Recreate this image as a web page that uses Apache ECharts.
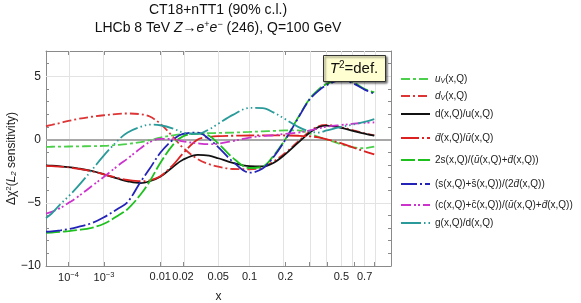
<!DOCTYPE html>
<html><head><meta charset="utf-8">
<script src="https://cdn.jsdelivr.net/npm/echarts@6/dist/echarts.min.js"></script>
<style>html,body{margin:0;padding:0;background:#fff}#c{width:581px;height:303px}</style>
</head><body><div id="c"></div>
<script>
// ---- data (x values and Δχ² curves) ----
const xVals = [1e-5, 2e-5, 5e-5, 1e-4, 2e-4, 5e-4, 1e-3, 2e-3, 3e-3, 5e-3, 7e-3, 0.01, 0.015, 0.02, 0.03, 0.04, 0.05, 0.07, 0.1, 0.13, 0.16, 0.2, 0.25, 0.3, 0.35, 0.4, 0.5, 0.6, 0.7, 0.8];
const uV   = [-0.58, -0.57, -0.56, -0.55, -0.54, -0.52, -0.5, -0.42, -0.35, -0.2, -0.05, 0.15, 0.33, 0.43, 0.48, 0.5, 0.52, 0.55, 0.6, 0.65, 0.68, 0.72, 0.72, 0.5, 0.22, 0.0, -0.38, -0.62, -0.68, -0.57];
const dV   = [1.05, 1.15, 1.32, 1.47, 1.62, 1.8, 1.92, 2.03, 2.06, 2.0, 1.82, 1.25, 0.2, -0.65, -1.55, -1.95, -2.15, -2.33, -2.35, -2.2, -1.75, -1.05, -0.15, 0.6, 1.05, 1.15, 0.97, 0.72, 0.5, 0.32];
const dOverU = [-2.05, -2.07, -2.12, -2.18, -2.28, -2.48, -2.75, -3.1, -3.3, -3.45, -3.3, -2.95, -2.15, -1.6, -1.22, -1.28, -1.48, -1.85, -2.1, -2.12, -1.85, -1.15, -0.25, 0.5, 0.98, 1.1, 0.92, 0.67, 0.46, 0.3];
const dbarOverUbar = [-2.08, -2.1, -2.15, -2.2, -2.3, -2.5, -2.75, -3.05, -3.2, -3.3, -3.22, -2.9, -2.0, -1.1, 0.0, 0.2, 0.27, 0.3, 0.32, 0.33, 0.33, 0.32, 0.3, 0.26, 0.17, 0.02, -0.3, -0.65, -0.93, -1.18];
const strangeRatio = [-7.37, -7.35, -7.3, -7.24, -7.16, -6.98, -6.66, -6.0, -5.5, -4.35, -3.3, -1.85, -0.4, 0.25, 0.47, 0.3, -0.3, -1.45, -2.25, -2.15, -1.3, 0.05, 1.75, 3.15, 3.95, 4.4, 4.8, 4.5, 4.0, 3.72];
const ssbarRatio = [-7.29, -7.26, -7.18, -7.08, -6.92, -6.62, -6.15, -5.45, -4.95, -3.35, -2.3, -1.05, 0.0, 0.45, 0.55, 0.05, -0.6, -1.75, -2.62, -2.3, -1.4, 0.0, 1.7, 3.1, 3.85, 4.3, 4.7, 4.42, 3.95, 3.62];
const ccbarRatio = [-5.85, -5.72, -5.4, -5.02, -4.55, -3.7, -2.95, -2.05, -1.5, -0.7, -0.2, 0.05, 0.03, -0.15, -0.3, -0.37, -0.33, -0.12, 0.15, 0.28, 0.34, 0.45, 0.55, 0.7, 0.88, 1.02, 1.15, 1.25, 1.32, 1.35];
const gOverD = [-6.2, -5.85, -5.1, -4.5, -3.75, -2.45, -1.25, -0.05, 0.55, 1.0, 1.18, 1.13, 0.87, 0.55, 0.45, 0.8, 1.25, 1.95, 2.5, 2.48, 2.15, 1.6, 1.0, 0.65, 0.55, 0.72, 1.0, 1.2, 1.4, 1.62];

const seriesNames = ['uV', 'dV', 'd/u', 'dbar/ubar', '2s', 's+sbar', 'c+cbar', 'g/d'];
const seriesValues = [uV, dV, dOverU, dbarOverUbar, strangeRatio, ssbarRatio, ccbarRatio, gOverD];
const legendLabels = [
  '{i|u}{sub|V}(x,Q)',
  '{i|d}{sub|V}(x,Q)',
  'd(x,Q)/u(x,Q)',
  '{i|d\u0304}(x,Q)/{i|\u016b}(x,Q)',
  '2s(x,Q)/({i|\u016b}(x,Q)+{i|d\u0304}(x,Q))',
  '(s(x,Q)+s\u0304(x,Q))/(2{i|d\u0304}(x,Q))',
  '(c(x,Q)+c\u0304(x,Q))/({i|\u016b}(x,Q)+{i|d\u0304}(x,Q))',
  'g(x,Q)/d(x,Q)'
];
const xTickValues = [1e-4, 1e-3, 0.01, 0.02, 0.05, 0.1, 0.2, 0.5, 0.7];
const xTickLabels = ['10{sup|\u22124}', '10{sup|\u22123}', '0.01', '0.02', '0.05', '0.1', '0.2', '0.5', '0.7'];
const xGridValues = [1e-4, 1e-3, 0.01, 0.02, 0.05, 0.1, 0.2, 0.3, 0.4, 0.5, 0.6, 0.7, 0.8];
const yTickValues = [-10, -5, 0, 5];
const yMinorTickValues = [-10, -9, -8, -7, -6, -5, -4, -3, -2, -1, 0, 1, 2, 3, 4, 5, 6, 7];
const xMin = 1e-5, xMax = 1, yMin = -10, yMax = 7;

// ---- styling ----
const X_POW = 0.2; // axis scale x^0.2
const tf = x => Math.pow(x, X_POW);
const FONT = "'Liberation Sans', Arial, Helvetica, sans-serif";
const colors = ['#4cd04c', '#dd3535', '#111111', '#dd2020', '#1ec01e', '#2323b8', '#cc33cc', '#2a9a9a'];
const dashes = [[9,3,3,3], [9,3,2,3], 'solid', [18,3,2,3], [14,3], [16,3,2,3], [10,3,2,2,2,3], [20,3,1.5,3,1.5,3,1.5,3]];
const legendCenters = [81, 98, 116, 140, 162, 186, 207, 225];

const chart = echarts.init(document.getElementById('c'), null, {renderer: 'canvas'});
const axisColor = '#8a8a8a';
const richSmall = {
  i: {fontStyle: 'italic', fontSize: 10, fontFamily: FONT, color: '#222'},
  sub: {fontStyle: 'italic', fontSize: 7, fontFamily: FONT, color: '#222', verticalAlign: 'bottom', padding: [5, 0, 0, 0]}
};

const series = seriesNames.map((n, k) => ({
  type: 'line', name: n,
  data: xVals.map((x, j) => [tf(x), seriesValues[k][j]]),
  smooth: 0.35, symbol: 'none', showSymbol: false,
  lineStyle: {color: colors[k], width: 1.8, type: dashes[k], cap: 'butt'},
  itemStyle: {color: colors[k]},
  z: 5 + k, silent: true
}));
series.unshift({
  type: 'line', name: '_grid', data: [], silent: true, z: 1,
  markLine: {
    silent: true, symbol: 'none', label: {show: false},
    lineStyle: {color: '#e3e3e3', width: 1, type: 'solid'},
    data: xGridValues.map(x => ({xAxis: tf(x)}))
      .concat(yTickValues.filter(v => v !== 0 && v !== yMin).map(v => ({yAxis: v})))
      .concat([{yAxis: 0, lineStyle: {color: '#a8a8a8', width: 2}}])
  }
});

const legends = seriesNames.map((n, k) => ({
  data: [n], left: 400, top: legendCenters[k] - 7, orient: 'vertical', padding: 0,
  itemWidth: 29, itemHeight: 10, itemGap: 8, selectedMode: false,
  itemStyle: {opacity: 0},
  formatter: () => legendLabels[k],
  textStyle: {fontSize: 10, fontFamily: FONT, color: '#222', rich: richSmall}
}));

const tickLabelRich = {sup: {fontSize: 7.5, fontFamily: FONT, color: '#222', verticalAlign: 'top', padding: [0, 0, 6, 0]}};

chart.setOption({
  animation: false,
  backgroundColor: '#fff',
  title: [
    {text: 'CT18+nTT1 (90% c.l.)', left: 218, top: 3, textAlign: 'center', padding: 0,
     textStyle: {fontSize: 14, fontWeight: 'normal', color: '#111', fontFamily: FONT}},
    {text: 'LHCb 8 TeV {i|Z}\u2192{i|e}{sup|+}{i|e}{sup|\u2212} (246), Q=100 GeV', left: 218, top: 20, textAlign: 'center', padding: 0,
     textStyle: {fontSize: 14, fontWeight: 'normal', color: '#111', fontFamily: FONT,
       rich: {i: {fontStyle: 'italic', fontSize: 14, fontFamily: FONT, color: '#111'},
              sup: {fontSize: 9, fontFamily: FONT, color: '#111', verticalAlign: 'top', padding: [0, 0, 7, 0]}}}}
  ],
  grid: {left: 46, right: 190, top: 51, bottom: 37, containLabel: false, outerBoundsMode: 'none'},
  legend: legends,
  xAxis: [
    {type: 'value', min: tf(xMin), max: tf(xMax), position: 'bottom',
     name: 'x', nameLocation: 'middle', nameGap: 25, nameMoveOverlap: false,
     nameTextStyle: {fontSize: 12, fontFamily: FONT, color: '#222'},
     axisLine: {show: true, onZero: false, lineStyle: {color: axisColor, width: 1}},
     axisTick: {show: true, inside: true, length: 4, customValues: xGridValues.map(tf), lineStyle: {color: axisColor}},
     axisLabel: {show: true, customValues: xTickValues.map(tf), margin: 5, fontSize: 11, fontFamily: FONT, color: '#222',
       formatter: v => { const i = xTickValues.findIndex(t => Math.abs(tf(t) - v) < 1e-6); return i >= 0 ? xTickLabels[i] : ''; },
       rich: tickLabelRich},
     splitLine: {show: false}},
    {type: 'value', min: tf(xMin), max: tf(xMax), position: 'top',
     axisLine: {show: true, onZero: false, lineStyle: {color: axisColor, width: 1}},
     axisTick: {show: true, inside: true, length: 4, customValues: xTickValues.map(tf), lineStyle: {color: axisColor}},
     axisLabel: {show: false}, splitLine: {show: false}}
  ],
  yAxis: [
    {type: 'value', min: yMin, max: yMax, position: 'left',
     name: '\u0394\u03c7{sup|2}({i|L}{sub|2} sensitivity)', nameLocation: 'middle', nameGap: 28, nameRotate: 90,
     nameMoveOverlap: false,
     nameTextStyle: {fontSize: 12, fontFamily: FONT, color: '#222',
       rich: {i: {fontStyle: 'italic', fontSize: 12, fontFamily: FONT, color: '#222'},
              sup: {fontSize: 8, fontFamily: FONT, color: '#222', verticalAlign: 'top', padding: [0, 0, 5, 0]},
              sub: {fontStyle: 'italic', fontSize: 8, fontFamily: FONT, color: '#222', verticalAlign: 'bottom', padding: [5, 0, 0, 0]}}},
     axisLine: {show: true, onZero: false, lineStyle: {color: axisColor, width: 1}},
     axisTick: {show: true, inside: true, length: 3, customValues: yMinorTickValues, lineStyle: {color: axisColor}},
     axisLabel: {show: true, customValues: yTickValues, margin: 5, fontSize: 12, fontFamily: FONT, color: '#222',
       formatter: v => (v < 0 ? '\u2212' + Math.abs(v) : String(v))},
     splitLine: {show: false}},
    {type: 'value', min: yMin, max: yMax, position: 'right',
     axisLine: {show: true, onZero: false, lineStyle: {color: axisColor, width: 1}},
     axisTick: {show: true, inside: true, length: 3, customValues: yMinorTickValues, lineStyle: {color: axisColor}},
     axisLabel: {show: false}, splitLine: {show: false}}
  ],
  graphic: [
    {type: 'rect', left: 323, top: 55, z: 100,
     shape: {width: 62, height: 26},
     style: {fill: '#ffffd2', stroke: '#333', lineWidth: 1, shadowBlur: 2, shadowOffsetX: 1.5, shadowOffsetY: 1.5, shadowColor: 'rgba(0,0,0,0.55)'}},
    {type: 'text', x: 354, y: 69, z: 101,
     style: {text: '{i|T}{sup|2}=def.', align: 'center', verticalAlign: 'middle',
       font: '15px ' + FONT, fill: '#111',
       rich: {i: {fontStyle: 'italic', fontSize: 15, fontFamily: FONT},
              sup: {fontSize: 10, fontFamily: FONT, verticalAlign: 'top', padding: [0, 0, 7, 0]}}}}
  ],
  series: series
});
</script></body></html>
